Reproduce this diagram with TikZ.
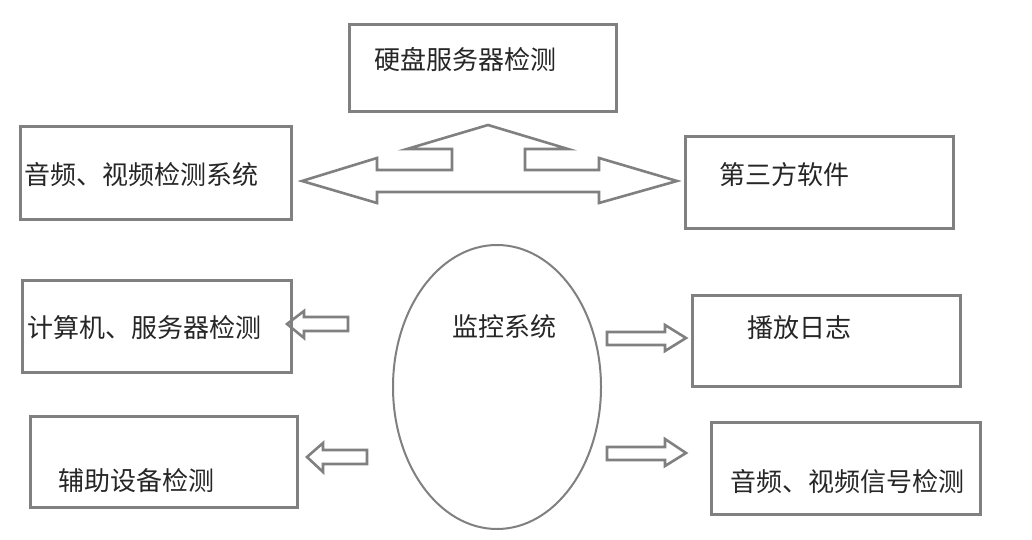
\documentclass[tikz,border=0pt]{standalone}
\usepackage{fontspec}
\usetikzlibrary{shapes.geometric}
\newfontfamily\cjk{Noto Sans CJK SC}
\begin{document}
\begin{tikzpicture}[x=1pt,y=-1pt,
  boxst/.style={draw=black!50,line width=3pt,rectangle,inner sep=0pt,outer sep=0pt},
  lbl/.style={font=\cjk\fontsize{26}{28}\selectfont,text=black!85,inner sep=0pt,anchor=west},
  blockarrow/.style={draw=black!50,line width=2.6pt,line join=miter},
  ellst/.style={draw=black!50,line width=2pt,ellipse,inner sep=0pt,outer sep=0pt}]
\useasboundingbox[fill=white] (0,0) rectangle (1032,540);
% boxes
\node[boxst,minimum width=267pt,minimum height=87pt] (bA) at (482.5,68.5) {};
\node[boxst,minimum width=271pt,minimum height=92pt] (bB) at (155.5,173) {};
\node[boxst,minimum width=268pt,minimum height=91pt] (bC) at (819,182.5) {};
\node[boxst,minimum width=269pt,minimum height=92pt] (bD) at (156.5,326) {};
\node[boxst,minimum width=267pt,minimum height=91pt] (bE) at (163.5,461.5) {};
\node[boxst,minimum width=268pt,minimum height=91pt] (bF) at (826,340.5) {};
\node[boxst,minimum width=269pt,minimum height=92pt] (bG) at (845.5,468) {};
% labels
\node[lbl] (tA) at (374,60) {硬盘服务器检测};
\node[lbl] (tB) at (24,175) {音频、视频检测系统};
\node[lbl] (tC) at (719,175) {第三方软件};
\node[lbl] (tD) at (27,328) {计算机、服务器检测};
\node[lbl] (tE) at (58,481) {辅助设备检测};
\node[lbl] (tF) at (747,328) {播放日志};
\node[lbl] (tG) at (730,482) {音频、视频信号检测};
% ellipse
\node[ellst,minimum width=208pt,minimum height=284pt] (mon) at (497,387) {};
\node[lbl] (tM) at (452,327) {监控系统};
% big three-way arrow
\draw[blockarrow] (488,125) -- (568,149) -- (525,149) -- (525,170) -- (599,170) -- (599,158)
  -- (677,181) -- (599,203) -- (599,192) -- (377,192) -- (377,203) -- (302,181)
  -- (377,158) -- (377,170) -- (452,170) -- (452,149) -- (407,149) -- cycle;
% small arrows
\draw[blockarrow] (348,317) -- (304,317) -- (304,311) -- (287,324) -- (304,338) -- (304,331) -- (348,331) -- cycle;
\draw[blockarrow] (367,450) -- (323,450) -- (323,443) -- (307,457) -- (323,472) -- (323,464) -- (367,464) -- cycle;
\draw[blockarrow] (607,332) -- (665,332) -- (665,325) -- (686,338) -- (665,351) -- (665,345) -- (607,345) -- cycle;
\draw[blockarrow] (607,447) -- (665,447) -- (665,439) -- (686,453) -- (665,466) -- (665,460) -- (607,460) -- cycle;
\end{tikzpicture}
\end{document}
